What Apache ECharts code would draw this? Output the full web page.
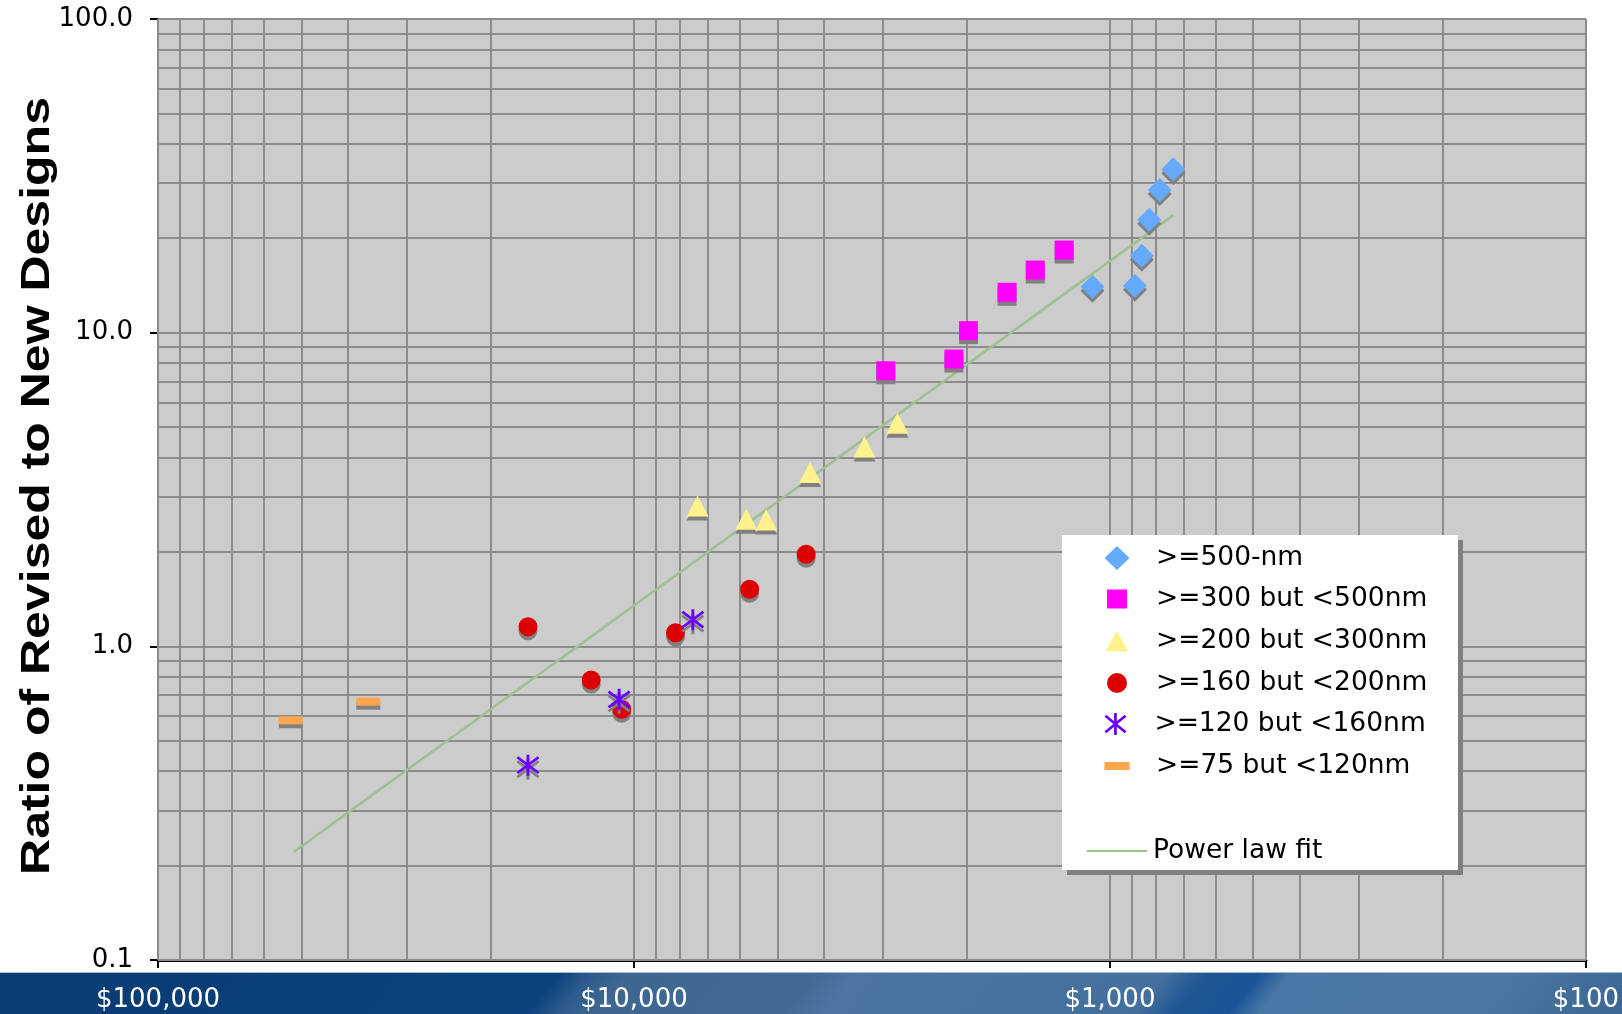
<!DOCTYPE html>
<html>
<head>
<meta charset="utf-8">
<title>Ratio of Revised to New Designs</title>
<script src="https://cdn.jsdelivr.net/npm/echarts@6/dist/echarts.min.js"></script>
<style>
  html, body { margin: 0; padding: 0; background: #ffffff; }
  #chart { width: 1622px; height: 1014px; }
</style>
</head>
<body>
<div id="chart"></div>
<script>
// Mask-set cost per design (x, dollars, log, decreasing to the right)
// against the ratio of revised to new designs (y, log), grouped by process node.

const nm500Name = '>=500-nm';
const nm500X = [736, 786, 827, 857, 886, 1088];
const nm500Y = [33.2, 28.5, 22.9, 17.6, 14.1, 14.0];

const nm300Name = '>=300 but <500nm';
const nm300X = [2957, 2127, 1982, 1645, 1435, 1248];
const nm300Y = [7.56, 8.24, 10.15, 13.45, 15.84, 18.34];

const nm200Name = '>=200 but <300nm';
const nm200X = [7355, 5808, 5274, 4266, 3278, 2795];
const nm200Y = [2.80, 2.54, 2.53, 3.58, 4.32, 5.14];

const nm160Name = '>=160 but <200nm';
const nm160X = [16700, 12300, 10610, 8180, 5714, 4348];
const nm160Y = [1.155, 0.781, 0.630, 1.105, 1.52, 1.965];

const nm120Name = '>=120 but <160nm';
const nm120X = [16700, 10745, 7521];
const nm120Y = [0.418, 0.678, 1.216];

const nm75Name = '>=75 but <120nm';
const nm75X = [52590, 36160];
const nm75Y = [0.581, 0.666];

const fitName = 'Power law fit';
const fitX = [51900, 736];
const fitY = [0.221, 23.7];

const xTicks = [100000, 10000, 1000, 100];
const xTickLabels = ['$100,000', '$10,000', '$1,000', '$100'];
const yTicks = [0.1, 1, 10, 100];
const yTickLabels = ['0.1', '1.0', '10.0', '100.0'];

const yTitle = 'Ratio of Revised to New Designs';

// ---------------------------------------------------------------------------

function zip(xs, ys) { return xs.map((x, i) => [x, ys[i]]); }

function tickLabel(ticks, labels) {
  return function (v) {
    let best = 0, bestD = Infinity;
    ticks.forEach((t, i) => {
      const d = Math.abs(Math.log10(t) - Math.log10(v));
      if (d < bestD) { bestD = d; best = i; }
    });
    return bestD < 0.01 ? labels[best] : '';
  };
}

// Gridline positions: every 1..9 multiple inside each decade
function decadeLines(lo, hi) {
  const out = [];
  for (let d = lo; d < hi; d *= 10) {
    for (let m = 1; m <= 9; m++) out.push(+(m * d).toPrecision(6));
  }
  out.push(hi);
  return out;
}

// Six-armed star marker: a vertical bar and two crossing diagonals
const ASTERISK = 'path://M10.5 0L13.5 0L13.5 24L10.5 24Z' +
  'M1.95 1.84L23.95 19.84L22.05 22.16L0.05 4.16Z' +
  'M0.05 19.84L22.05 1.84L23.95 4.16L1.95 22.16Z';

const SHADOW = { shadowColor: '#808080', shadowOffsetX: 0, shadowOffsetY: 4, shadowBlur: 0 };

const groups = [
  { name: nm500Name, x: nm500X, y: nm500Y, symbol: 'diamond', size: [24, 24], color: '#66AAFF', legendSize: [25, 24] },
  { name: nm300Name, x: nm300X, y: nm300Y, symbol: 'rect', size: [19, 19], color: '#FF00FF', legendSize: [20, 19] },
  { name: nm200Name, x: nm200X, y: nm200Y, symbol: 'triangle', size: [22, 21], color: '#FFF28C', legendSize: [23, 21] },
  { name: nm160Name, x: nm160X, y: nm160Y, symbol: 'circle', size: [19, 19], color: '#DD0000', legendSize: [20, 20] },
  { name: nm120Name, x: nm120X, y: nm120Y, symbol: ASTERISK, size: [23, 21], color: '#6A00FF', legendSize: [25, 22] },
  { name: nm75Name, x: nm75X, y: nm75Y, symbol: 'rect', size: [24, 8], color: '#FFA64D', legendSize: [25, 8] }
];

// Legend geometry
const LEG_ICON_CX = 1117;
const LEG_TEXT_X = 1156;
const LEG_ROWS = [558, 599, 641, 683, 724, 766];
const LEG_FIT_ROW = 851;

const legendTextStyle = {
  fontFamily: 'DejaVu Sans', fontSize: 26.5, lineHeight: 30, color: '#000000'
};
const noShadow = { shadowBlur: 0, shadowOffsetX: 0, shadowOffsetY: 0, shadowColor: 'rgba(0,0,0,0)' };

const legends = groups.map((g, i) => {
  const w = g.legendSize[0], h = g.legendSize[1];
  return {
    data: [{ name: g.name, icon: g.symbol }],
    left: LEG_ICON_CX - w / 2,
    top: LEG_ROWS[i] - 15,
    itemWidth: w, itemHeight: h,
    padding: 0, selectedMode: false, z: 6,
    itemStyle: Object.assign({ color: g.color }, noShadow),
    textStyle: Object.assign({ padding: [0, 0, 0, LEG_TEXT_X - (LEG_ICON_CX + w / 2) - 5] }, legendTextStyle)
  };
});
legends.push({
  data: [{ name: fitName, icon: 'rect' }],
  left: LEG_ICON_CX - 30,
  top: LEG_FIT_ROW - 15,
  itemWidth: 60, itemHeight: 2,
  padding: 0, selectedMode: false, z: 6,
  itemStyle: Object.assign({ color: '#9FC08F' }, noShadow),
  textStyle: Object.assign({ padding: [0, 0, 0, 1153 - (LEG_ICON_CX + 30) - 5] }, legendTextStyle)
});

// Footer band behind the dollar labels
const BAND_TOP = 972;
const bandStops = [
  [0, '#0a3b73'], [545, '#0c437f'], [575, '#2d5b8c'], [610, '#3d6691'],
  [800, '#416a94'], [840, '#4c75a1'], [1150, '#44709d'], [1190, '#1f5694'],
  [1245, '#1b5597'], [1275, '#4877a5'], [1500, '#4a76a2'], [1622, '#3d6894']
];
function bandGradient() {
  const s = 35, h = 1014 - BAND_TOP, mid = BAND_TOP + h / 2;
  const k = 1822 * h / (h * h + s * s);
  const stops = bandStops.map(([x, c]) => ({ offset: (x + 100) / 1822, color: c }));
  return new echarts.graphic.LinearGradient(-100, mid, -100 + h * k, mid + s * k, stops, true);
}

const gridLineData = []
  .concat(decadeLines(100, 100000).map(v => ({ xAxis: v })))
  .concat(decadeLines(0.1, 100).map(v => ({ yAxis: v })));

const chart = echarts.init(document.getElementById('chart'), null, { renderer: 'canvas' });

chart.setOption({
  animation: false,
  backgroundColor: '#ffffff',
  grid: {
    left: 158, right: 31, top: 19, bottom: 54,
    show: true, backgroundColor: '#CCCCCC', borderWidth: 0
  },
  xAxis: {
    type: 'log', logBase: 10, min: 100, max: 100000, inverse: true,
    axisLine: { show: true, onZero: false, lineStyle: { color: '#000000', width: 3 } },
    axisTick: { show: true, length: 8, lineStyle: { color: '#000000', width: 2 } },
    axisLabel: {
      margin: 27, color: '#ffffff', fontFamily: 'DejaVu Sans', fontSize: 26,
      showMinLabel: true, showMaxLabel: true, hideOverlap: false,
      formatter: tickLabel(xTicks, xTickLabels)
    },
    splitLine: { show: false }, minorTick: { show: false }
  },
  yAxis: {
    type: 'log', logBase: 10, min: 0.1, max: 100,
    axisLine: { show: true, onZero: false, lineStyle: { color: '#000000', width: 2 } },
    axisTick: { show: true, length: 8, lineStyle: { color: '#000000', width: 2 } },
    axisLabel: {
      margin: 25, color: '#000000', fontFamily: 'DejaVu Sans', fontSize: 26,
      showMinLabel: true, showMaxLabel: true,
      formatter: tickLabel(yTicks, yTickLabels)
    },
    splitLine: { show: false }, minorTick: { show: false }
  },
  legend: legends,
  graphic: [
    {
      type: 'rect', z: -1, silent: true,
      shape: { x: 0, y: BAND_TOP, width: 1622, height: 1014 - BAND_TOP },
      style: { fill: bandGradient() }
    },
    {
      type: 'rect', z: -1, silent: true,
      shape: { x: 0, y: BAND_TOP, width: 1622, height: 1 },
      style: { fill: '#a9b9ce' }
    },
    {
      type: 'rect', z: 4, silent: true,
      shape: { x: 1062, y: 535, width: 396, height: 335 },
      style: { fill: '#ffffff', shadowColor: '#808080', shadowOffsetX: 5, shadowOffsetY: 5, shadowBlur: 0 }
    },
    {
      type: 'text', z: 10, silent: true,
      x: 38, y: 486, rotation: Math.PI / 2, scaleX: 1.25, scaleY: 1,
      style: {
        text: yTitle, font: 'bold 40px "Liberation Sans", Arial, sans-serif',
        fill: '#000000', textAlign: 'center', textVerticalAlign: 'middle'
      }
    }
  ],
  series: [
    {
      type: 'scatter', name: 'gridlines', data: [], z: 1, silent: true,
      markLine: {
        z: 1, silent: true, animation: false, symbol: ['none', 'none'],
        label: { show: false }, emphasis: { disabled: true },
        lineStyle: { color: '#8C8C8C', width: 2, type: 'solid' },
        data: gridLineData
      }
    }
  ].concat(groups.map(g => ({
    type: 'scatter', name: g.name, data: zip(g.x, g.y), z: 3,
    symbol: g.symbol, symbolSize: g.size,
    itemStyle: Object.assign({ color: g.color, opacity: 1 }, SHADOW),
    emphasis: { disabled: true }
  }))).concat([{
    type: 'line', name: fitName, data: zip(fitX, fitY), z: 3,
    symbol: 'none', silent: true,
    lineStyle: { color: '#9FC08F', width: 2.5 },
    itemStyle: { color: '#9FC08F' }
  }])
});
</script>
</body>
</html>
